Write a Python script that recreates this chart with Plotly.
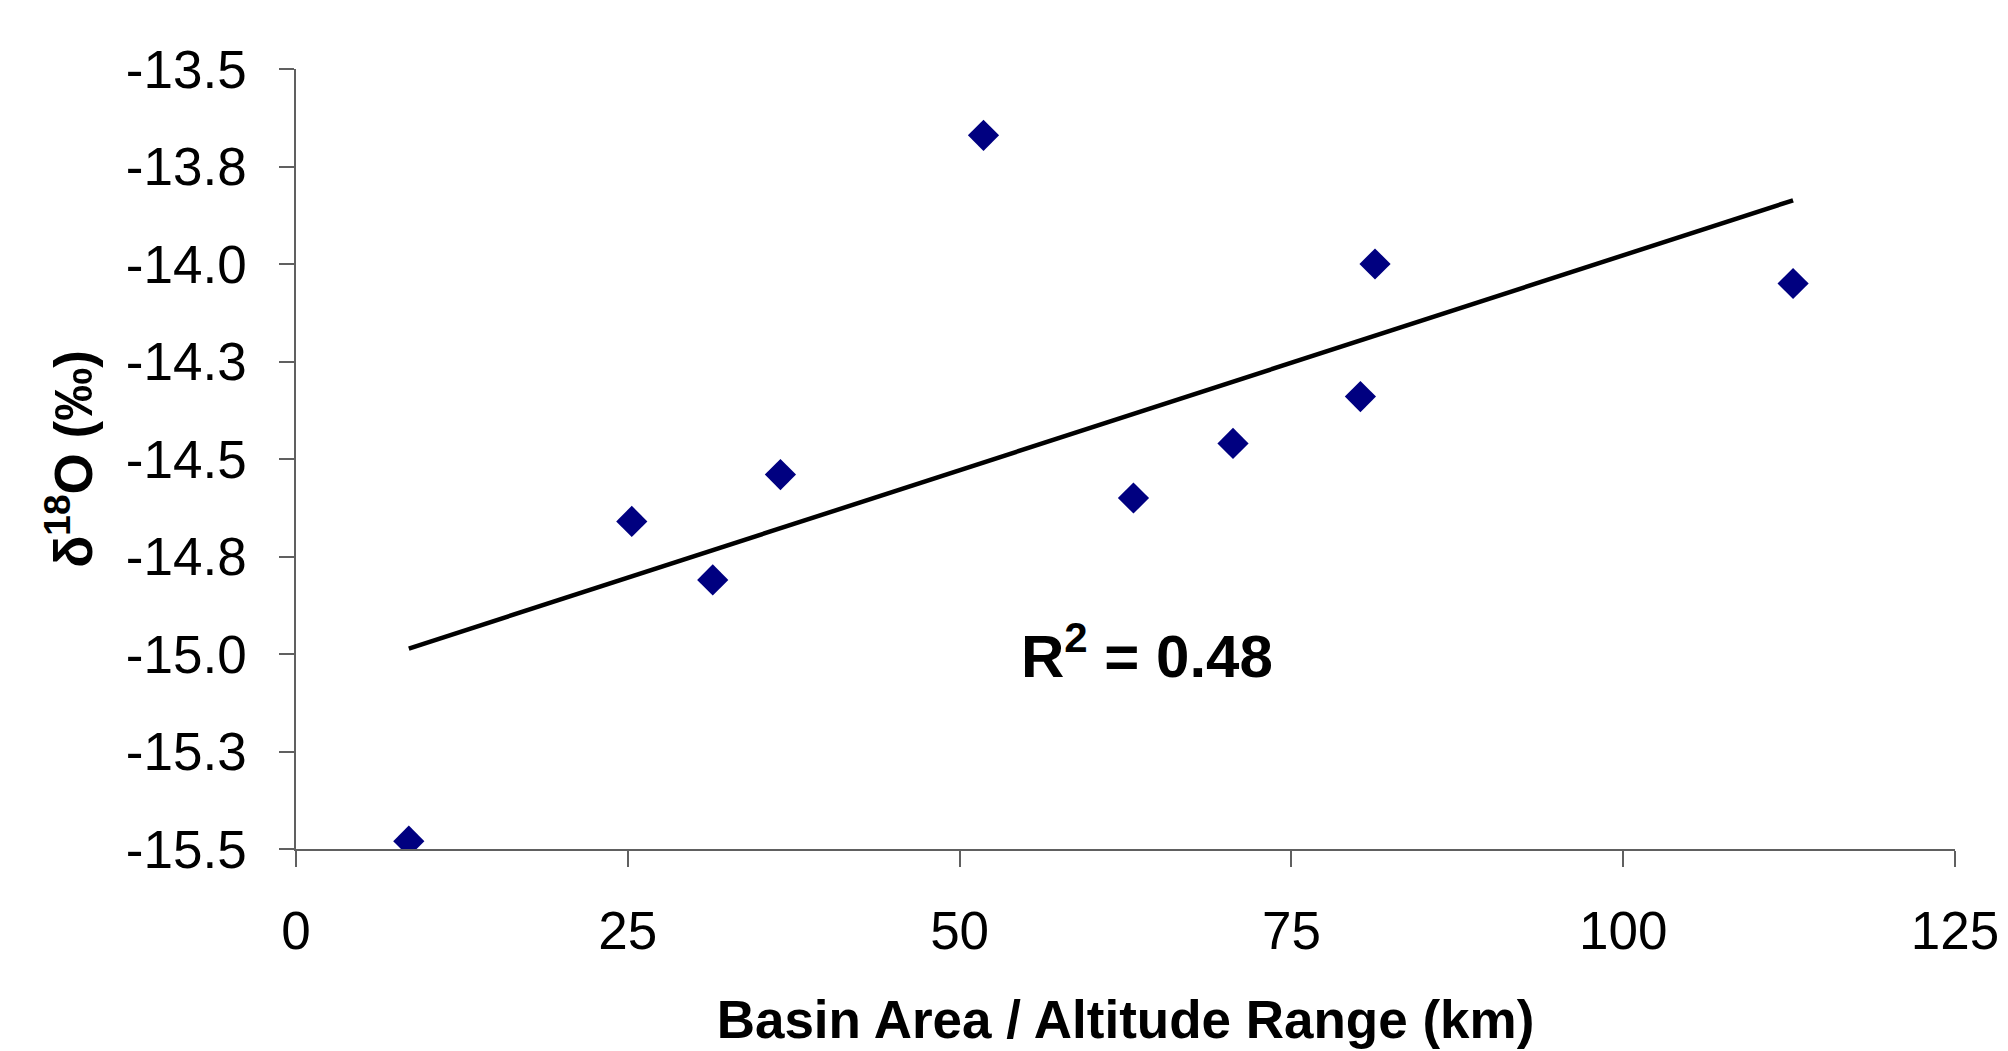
import numpy as np
import plotly.graph_objects as go

# Data
basin_ratio_km = [8.5, 25.3, 31.4, 36.5, 51.8, 63.1, 70.6, 80.2, 81.3, 112.8]
delta18O = [-15.48, -14.66, -14.81, -14.54, -13.67, -14.60, -14.46, -14.34, -14.00, -14.05]

y_tick_vals = [-13.5, -13.75, -14.0, -14.25, -14.5, -14.75, -15.0, -15.25, -15.5]
y_tick_text = ["-13.5", "-13.8", "-14.0", "-14.3", "-14.5", "-14.8", "-15.0", "-15.3", "-15.5"]
x_tick_vals = [0, 25, 50, 75, 100, 125]

r2_label = "R<sup>2</sup> = 0.48"

# Linear trend line (least squares fit of the data)
slope, intercept = np.polyfit(basin_ratio_km, delta18O, 1)
trend_x = [min(basin_ratio_km), max(basin_ratio_km)]
trend_y = [slope * v + intercept for v in trend_x]

FONT = "Liberation Sans, Arial, sans-serif"

W, H = 2008, 1051
ml, mr, mt, mb = 296, 53, 69, 202
pw, ph = W - ml - mr, H - mt - mb

fig = go.Figure()
fig.add_trace(go.Scatter(
    x=trend_x, y=trend_y, mode="lines",
    line=dict(color="black", width=4.5), showlegend=False, hoverinfo="skip"))
fig.add_trace(go.Scatter(
    x=basin_ratio_km, y=delta18O, mode="markers",
    marker=dict(symbol="diamond", size=24, color="#000080", line=dict(width=0)),
    showlegend=False))

fig.add_annotation(
    x=(1147 - ml) / pw, y=1 - (692 - mt) / ph, xref="paper", yref="paper",
    text=r2_label, showarrow=False,
    font=dict(family=FONT, size=60, color="black", weight="bold"))

axis_common = dict(
    showline=True, linecolor="#606060", linewidth=1.5,
    ticks="outside", tickcolor="#606060", tickwidth=1.5,
    showgrid=False, zeroline=False,
    tickfont=dict(family=FONT, size=53, color="black"),
)

fig.update_xaxes(
    range=[0, 125], tickvals=x_tick_vals, ticklen=16, ticklabelstandoff=19,
    title=dict(text="Basin Area / Altitude Range (km)",
               font=dict(family=FONT, size=53, color="black", weight="bold"),
               standoff=42),
    **axis_common)
fig.update_yaxes(
    range=[-15.5, -13.5], tickvals=y_tick_vals, ticktext=y_tick_text, ticklen=15,
    ticklabelstandoff=22,
    title=dict(text="δ<sup>18</sup>O (‰)",
               font=dict(family=FONT, size=53, color="black", weight="bold"),
               standoff=16),
    **axis_common)

fig.update_layout(
    width=W, height=H,
    margin=dict(l=ml, r=mr, t=mt, b=mb, autoexpand=False),
    paper_bgcolor="white", plot_bgcolor="white",
)

fig.write_html("out.html")
